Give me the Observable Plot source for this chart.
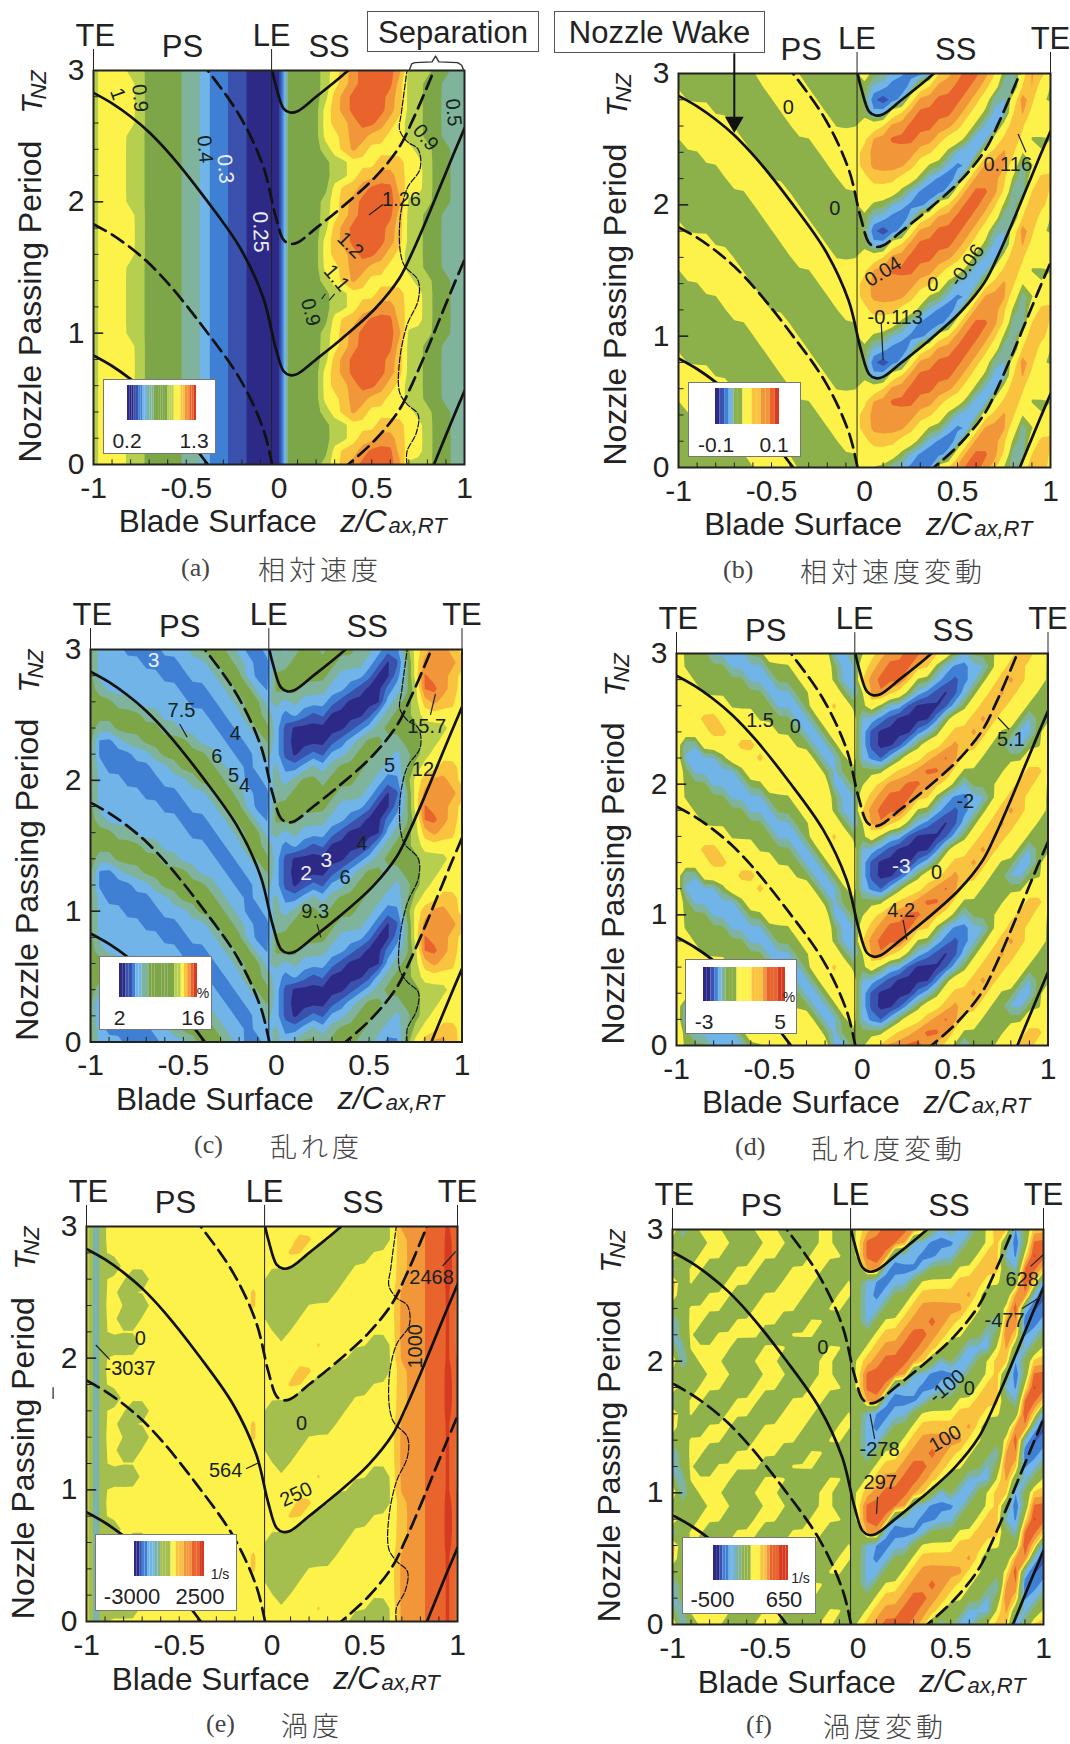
<!DOCTYPE html>
<html><head><meta charset="utf-8">
<script src="https://cdn.jsdelivr.net/npm/d3@7"></script>
<script src="https://cdn.jsdelivr.net/npm/@observablehq/plot@0.6"></script>
<style>
html,body{margin:0;background:#fff}
#page{position:relative;width:1070px;height:1744px;overflow:hidden;background:#fff;font-family:"Liberation Sans",sans-serif;color:#222}
#page>svg,#page>figure{position:absolute;margin:0}
.t{position:absolute;white-space:nowrap;transform:translateY(-50%);line-height:1}
.box{position:absolute;background:#fff;border:1px solid #777;box-sizing:border-box}
.box svg{position:absolute;max-width:none}
</style></head><body><div id="page"></div>
<script>
// Contour levels, one period of the wake (T = 0.0 ... 0.9), z = -1 ... 1 in steps of 0.05.
const gridA=[
"677766555544322110000"+"55556789aaaa96665544",
"677766555544322110000"+"555557889aaa87765544",
"677766555544322110000"+"55555667889987765544",
"677766555544322110000"+"55555667778887765544",
"677766555544322110000"+"55556789877777665544",
"677766555544322110000"+"55557789988776655444",
"677776555544322110000"+"55557889aa9876655444",
"677776555544322110000"+"5555789aaaa986655444",
"677776555544322110000"+"5555689aaaa986655444",
"677776555544322110000"+"55556789aaaa86655444"];
const gridB=[
"55555555577775555555"+"7"+"5533212889aa98537987",
"55555555777755555555"+"7"+"77753211289aa9833897",
"55555577775555555577"+"7"+"88877532128999853788",
"55555777755555555777"+"8"+"99998755321899973577",
"55577777555555557777"+"8"+"99999887532288985757",
"57777775555555577777"+"7"+"99aaa998775227897555",
"77777755555557777555"+"7"+"7899aaa9987532798577",
"77775555555577775555"+"5"+"22889aaaa98753289777",
"75555555555777755555"+"5"+"1012899aaa987337a855",
"55555555557777555555"+"5"+"332128899aa987338975"];
const gridC=[
"53332222333455543223"+"4"+"34554555443225"+"789987",
"53222223345555433233"+"4"+"22343455544334"+"677887",
"52222334555554332234"+"3"+"10121334554434"+"567777",
"52234455555433322335"+"3"+"10000123455445"+"566777",
"54455555443333223355"+"3"+"10000001234555"+"566677",
"55555544333332233554"+"3"+"23212000013455"+"677777",
"55544333333222334553"+"4"+"34333210000345"+"689886",
"54333333332223345532"+"5"+"55444332100234"+"6aa987",
"53333333222333455322"+"5"+"55555433320024"+"7a9987",
"53333322223334554322"+"4"+"45555544432014"+"799998"];
const gridD=[
"75553333557777777335"+"5"+"7899aa98753555778875",
"75333335777777775355"+"5"+"557889aa975555577887",
"73333577787777753357"+"3"+"21357789a97755555777",
"73377778877775533577"+"3"+"10013577898875533557",
"77778877777555335777"+"3"+"10000235788987553357",
"77788777755553357777"+"3"+"32100002577898775355",
"77777755555333577875"+"5"+"75331000135788877555",
"77755555553335577753"+"5"+"9a875321013578987755",
"77555555333555777533"+"8"+"9aaa8553212357898775",
"75555533335557777533"+"7"+"89aaa885322335788775"];
const gridE=[
"82777777777777777777"+"7"+"777777775555"+"7999aab9",
"82755577777777777777"+"7"+"777787777755"+"7999aab9",
"82777777777777777777"+"7"+"577777777777"+"7999aab9",
"82775577777777777777"+"5"+"557777777777"+"7999aab9",
"82777557777777777787"+"5"+"555777777777"+"7999aab9",
"82775777777777777787"+"5"+"555555777777"+"7999aab9",
"82777557777777777777"+"5"+"555555577777"+"7899aaba",
"82757777777777777777"+"7"+"775555557777"+"7899aaba",
"82777777777777777777"+"7"+"788755555577"+"7899aaba",
"82777777777777777777"+"7"+"778877555555"+"7899aaba"];
const gridF=[
"93577755577755557755"+"7"+"89aaa985353357882588",
"53777775557775555775"+"5"+"7899aa98755333795357",
"35755777775557775555"+"5"+"57889aa98775535a8235",
"35775557777755577555"+"5"+"3577899a98775539a123",
"55777755577777555775"+"5"+"3355789999977557b312",
"85557775557777755577"+"5"+"32355788888975559a31",
"95755577755577775557"+"5"+"32233577778887755b82",
"35775557775557777555"+"5"+"9a222235557788853aa8",
"95577755577755577775"+"7"+"aaa233223355788327ba",
"55557775557775557755"+"7"+"aaaa93322235578515aa"];

const baseColors=["#2c2a86","#3a52ad","#3f80d5","#70b4e8","#7fb39b","#7da648","#b7cf4f","#fdf24a","#f9c23f","#f2963a","#e8642c","#d63a20"];
const with5and6=(g,h)=>baseColors.map((c,i)=>i===5?g:i===6?(h||g):c);

// Nozzle wake trajectory
const wakeZ=[-1,-.9,-.8,-.7,-.58,-.4,-.21,-.085,-.02,.025,.06,.1,.2,.34,.52,.65,.72,.8,.87,.94,1];
const wakeT=[2.83,2.75,2.65,2.53,2.35,2.03,1.65,1.27,.9,.71,.68,.69,.8,.96,1.19,1.42,1.62,1.88,2.12,2.36,2.56];
const solidOffsets=[0,2,-2];
const dashedOffsets=[1,-1];
// Separation line
const sepZ=[.69,.69,.74,.75,.69,.65,.65,.69,.75,.75,.67,.65,.69,.76,.75,.69,.65,.66,.69];
const sepT=[0,.1,.24,.38,.46,.55,.79,1.06,1.25,1.4,1.53,1.82,2.1,2.25,2.4,2.46,2.55,2.68,3];
const bracketZ=[.702,.715,.733,.825,.844,.862,.963,.985,.996];
const bracketT=[3,3.05,3.06,3.066,3.11,3.066,3.06,3.04,3];

const xTicks=[-1,-.5,0,.5,1], yTicks=[0,1,2,3];
const xMinor=[-.9,-.8,-.7,-.6,-.5,-.4,-.3,-.2,-.1,.1,.2,.3,.4,.5,.6,.7,.8,.9];
const yMinor=[.2,.4,.6,.8,1.2,1.4,1.6,1.8,2.2,2.4,2.6,2.8];

const topLabels=[["TE",-.99,3.26],["PS",-.52,3.175],["LE",-.04,3.26],["SS",.49,3.175],["TE",1,3.26]];
const topLabelsA=[["TE",-.99,3.26],["PS",-.52,3.175],["LE",-.04,3.26],["SS",.27,3.175]];
const topLabelsB=[["PS",-.34,3.175],["LE",-.04,3.26],["SS",.49,3.175],["TE",1,3.26]];

const notesA=[["0.9",-.75,2.79,85],["1",-.87,2.82,70],["0.4",-.4,2.4,85],["1.26",.66,2.02,0],["1.2",.385,1.67,45],["1.1",.31,1.42,50],["0.9",.17,1.16,75],["0.9",.79,2.49,50],["0.5",.94,2.68,85]];
const whiteA=[["0.3",-.29,2.25,85],["0.25",-.1,1.77,88]];
const leadA=[[.56,1.98,.485,1.9],[.3,1.3,.27,1.25],[.25,1.3,.23,1.26]];
const notesB=[["0",-.41,2.74,0],["0",-.16,1.97,0],["0.04",.1,1.49,-32],["0",.367,1.39,0],["-0.06",.55,1.54,-55],["-0.113",.165,1.14,0],["0.116",.77,2.31,0]];
const leadB=[[.09,1.1,.1,.82],[.826,2.54,.868,2.4]];
const notesC=[["7.5",-.51,2.53,0],["4",-.22,2.36,0],["6",-.32,2.18,0],["5",-.23,2.04,0],["4",-.17,1.96,0],["5",.61,2.11,0],["12",.79,2.08,0],["15.7",.81,2.41,0],["4",.46,1.52,0],["6",.37,1.26,0],["9.3",.21,1,0]];
const whiteC=[["3",-.66,2.92,0],["3",.27,1.39,0],["2",.16,1.29,0]];
const leadC=[[-.52,2.43,-.48,2.33],[.857,2.66,.83,2.5],[.22,.9,.24,.8]];
const notesD=[["1.5",-.55,2.49,0],["0",-.36,2.44,0],["5.1",.8,2.34,0],["-2",.555,1.87,0],["0",.4,1.32,0],["4.2",.21,1.03,0]];
const whiteD=[["-3",.21,1.37,0]];
const leadD=[[.73,2.51,.79,2.42],[.22,.96,.24,.81]];
const notesE=[["0",-.71,2.15,0],["-3037",-.765,1.92,0],["564",-.25,1.145,0],["250",.13,.965,-25],["0",.16,1.5,0],["1000",.775,2.09,-90],["2468",.86,2.61,0]];
const leadE=[[-.95,2.1,-.875,1.99],[-.14,1.16,-.066,1.21],[.92,2.7,.99,2.81],[-1.18,1.69,-1.18,1.78]];
const notesF=[["0",-.19,2.1,0],["-100",.48,1.81,-40],["0",.6,1.79,0],["100",.47,1.41,-30],["-278",.116,1.33,0],["297",.12,1.08,0],["628",.885,2.62,0],["-477",.79,2.31,0]];
const leadF=[[.065,1.6,.09,1.41],[.105,.97,.1,.84],[.93,2.72,1,2.81],[.885,2.4,.985,2.49]];

const stripesA="0001122334445555556667778899aab";
const stripesB="012355778899ab";
const stripesC="0011233445555555566789ab";
const stripesD="00123455577778889aaabb";
const stripesE="0012233344555677888999aaabb";
const stripesF="001223344556777889aaabbb";

const page=document.getElementById("page");
const M={l:85,t:68,r:20,b:100};
const thresholds=d3.range(-.5,12,1);

function field(rows){const v=[];for(let t=0;t<=30;t++){for(const c of rows[t%10])v.push(parseInt(c,36));}return v;}
function offsetLine(zs,ts,offsets){return offsets.flatMap(o=>zs.map((z,i)=>({z,T:ts[i]+o,o})));}
function txt(s,x,y,size,extra){const e=document.createElement("div");e.className="t";e.textContent=s;
  e.style.left=x+"px";e.style.top=y+"px";e.style.fontSize=size+"px";Object.assign(e.style,extra||{});return e;}

function panel(p){
  const w=p.right-p.left,h=p.bottom-p.top;
  const ruleZ=p.labels.filter(d=>d[0]==="TE"||d[0]==="LE").map(d=>d[1]===-.99?-1:d[1]);
  const marks=[
    Plot.contour(field(p.grid),{x1:-1.025,x2:1.025,y1:-.05,y2:3.05,width:41,height:31,value:d=>d,fill:"value",thresholds,blur:p.blur,clip:true}),
    Plot.ruleX(xMinor,{y1:0,y2:.035,stroke:"#222",strokeWidth:1}),
    Plot.ruleY(yMinor,{x1:-1,x2:-.97,stroke:"#222",strokeWidth:1}),
    Plot.ruleY([1,2],{x1:-1,x2:-.945,stroke:"#222",strokeWidth:1.6}),
    Plot.ruleX(ruleZ,{y1:0,y2:3.16,stroke:"#222",strokeWidth:1})
  ];
  if(p.sep) marks.push(Plot.line(sepZ.map((z,i)=>({z:z+p.sep,T:sepT[i]})),{x:"z",y:"T",stroke:"#111",strokeWidth:1.2,strokeDasharray:"6,2",curve:"catmull-rom",clip:true}));
  marks.push(
    Plot.line(offsetLine(wakeZ,wakeT,solidOffsets),{x:"z",y:"T",z:"o",stroke:"#111",strokeWidth:2.7,curve:"catmull-rom",clip:true}),
    Plot.line(offsetLine(wakeZ,wakeT,dashedOffsets),{x:"z",y:"T",z:"o",stroke:"#111",strokeWidth:2.7,strokeDasharray:"14,7",curve:"catmull-rom",clip:true}),
    Plot.frame({stroke:"#222",strokeWidth:2}),
    Plot.axisX(xTicks,{anchor:"bottom",tickSize:0,tickPadding:12,tickFormat:d=>String(d),fontSize:30,label:null,fill:"#222"}),
    Plot.axisY(yTicks,{anchor:"left",tickSize:0,tickPadding:9,tickFormat:d=>String(d),fontSize:30,label:null,fill:"#222"}),
    Plot.text(p.labels,{x:d=>d[1],y:d=>d[2],text:d=>d[0],fontSize:31,fill:"#222"}),
    Plot.text(["Nozzle Passing Period"],{x:-1.34,y:1.24,rotate:-90,fontSize:32,fill:"#222"}),
    Plot.text(["T"],{x:-1.325,y:2.74,rotate:-90,fontSize:29,fontStyle:"italic",fill:"#222"}),
    Plot.text(["NZ"],{x:-1.295,y:2.89,rotate:-90,fontSize:22,fontStyle:"italic",fill:"#222"}),
    Plot.text(["Blade Surface"],{x:-.33,y:-.44,fontSize:31.5,fill:"#222"}),
    Plot.text(["z/C"],{x:.33,y:-.44,textAnchor:"start",fontSize:31,fontStyle:"italic",fill:"#222"}),
    Plot.text(["ax,RT"],{x:.59,y:-.465,textAnchor:"start",fontSize:22,fontStyle:"italic",fill:"#222"}),
    Plot.text(p.notes,{x:d=>d[1],y:d=>d[2],text:d=>d[0],rotate:d=>d[3],fontSize:20,fill:"#16221a"}),
    Plot.link(p.lead,{x1:d=>d[0],y1:d=>d[1],x2:d=>d[2],y2:d=>d[3],stroke:"#222",strokeWidth:1.2})
  );
  if(p.white) marks.push(Plot.text(p.white,{x:d=>d[1],y:d=>d[2],text:d=>d[0],rotate:d=>d[3],fontSize:21,fill:"#eef"}));
  if(p.extra) marks.push(...p.extra);
  const svg=Plot.plot({
    width:w+M.l+M.r,height:h+M.t+M.b,marginLeft:M.l,marginRight:M.r,marginTop:M.t,marginBottom:M.b,
    x:{domain:[-1,1]},y:{domain:[0,3]},
    color:{type:"ordinal",domain:thresholds,range:p.colors},
    style:{background:"transparent",overflow:"visible",fontFamily:"'Liberation Sans',sans-serif",maxWidth:"none"},
    marks
  });
  svg.style.left=(p.left-M.l)+"px";svg.style.top=(p.top-M.t)+"px";
  page.appendChild(svg);
}

function legend(l){
  const b=document.createElement("div");b.className="box";
  b.style.cssText+=`left:${l.x0}px;top:${l.y0}px;width:${l.x1-l.x0}px;height:${l.y1-l.y0}px`;
  const levels=[...l.stripes].map(c=>parseInt(c,36));
  const svg=Plot.plot({width:l.bx1-l.bx0,height:l.by1-l.by0,margin:0,
    x:{axis:null,padding:0,round:false},y:{axis:null},
    color:{type:"ordinal",domain:d3.range(12),range:l.colors},
    marks:[Plot.cell(levels,{x:(d,i)=>i,fill:d=>d})]});
  svg.style.left=(l.bx0-l.x0)+"px";svg.style.top=(l.by0-l.y0)+"px";
  b.appendChild(svg);page.appendChild(b);
  for(const [s,x,y,size] of l.labels){const e=txt(s,x,y,size,{transform:"translate(-50%,-50%)"});page.appendChild(e);}
}

const yellow="#fdf24a";
const colorsB=with5and6("#8cb04a",yellow),colorsD=with5and6("#86ad4a",yellow),colorsE=with5and6("#a5bf4f"),colorsF=with5and6("#8fb34a");

panel({grid:gridA,colors:baseColors,blur:.03,left:93,right:464,top:70,bottom:464,labels:topLabelsA,sep:.0001,notes:notesA,white:whiteA,lead:leadA,
  extra:[Plot.line(bracketZ.map((z,i)=>({z,T:bracketT[i]})),{x:"z",y:"T",stroke:"#333",strokeWidth:1.4})]});
panel({grid:gridB,colors:colorsB,blur:.05,left:678,right:1050,top:73,bottom:467,labels:topLabelsB,notes:notesB,lead:leadB,
  extra:[Plot.ruleX([-.7],{y1:2.62,y2:3.15,stroke:"#111",strokeWidth:2}),Plot.dot([-.7],{x:d=>d,y:[2.63],symbol:"triangle",rotate:180,r:7,fill:"#111"})]});
panel({grid:gridC,colors:baseColors,blur:.03,left:89.5,right:461,top:648.5,bottom:1041,labels:topLabels,sep:.015,notes:notesC,white:whiteC,lead:leadC});
panel({grid:gridD,colors:colorsD,blur:.03,left:675.5,right:1047,top:653,bottom:1045,labels:topLabels,notes:notesD,white:whiteD,lead:leadD});
panel({grid:gridE,colors:colorsE,blur:.05,left:86,right:457,top:1226,bottom:1621,labels:topLabels,sep:-.02,notes:notesE,lead:leadE});
panel({grid:gridF,colors:colorsF,blur:.02,left:672,right:1043,top:1229,bottom:1624,labels:topLabels,notes:notesF,lead:leadF});

legend({x0:103,x1:216,y0:379,y1:454,bx0:126,bx1:195,by0:384,by1:419,stripes:stripesA,colors:baseColors,labels:[["0.2",127,440,21],["1.3",194,440,21]]});
legend({x0:688,x1:801,y0:382,y1:457,bx0:714,bx1:778,by0:387,by1:423,stripes:stripesB,colors:colorsB,labels:[["-0.1",716,444,21],["0.1",774,444,21]]});
legend({x0:99,x1:212,y0:955.5,y1:1030,bx0:118,bx1:196,by0:962,by1:996,stripes:stripesC,colors:baseColors,labels:[["2",119.5,1017,21],["16",193,1017,21],["%",203,993,14]]});
legend({x0:685,x1:797,y0:959,y1:1034,bx0:701.5,bx1:783.5,by0:965.5,by1:999.5,stripes:stripesD,colors:colorsD,labels:[["-3",704,1021,21],["5",780,1021,21],["%",789,997,14]]});
legend({x0:95,x1:237,y0:1534,y1:1611,bx0:132.5,bx1:203,by0:1540,by1:1575,stripes:stripesE,colors:colorsE,labels:[["-3000",132,1597,22],["2500",200,1597,22],["1/s",220,1574,14]]});
legend({x0:682,x1:815.5,y0:1537,y1:1614,bx0:711.5,bx1:787,by0:1544,by1:1579,stripes:stripesF,colors:colorsF,labels:[["-500",712.5,1600,22],["650",784,1600,22],["1/s",800.5,1578,14]]});

// Callout boxes
for(const [s,x0,x1,y0,y1] of [["Separation",367,539,11,52],["Nozzle Wake",554,765,11,53]]){
  const b=document.createElement("div");b.className="box";b.style.cssText+=`left:${x0}px;top:${y0}px;width:${x1-x0}px;height:${y1-y0}px;background:#fff;border-color:#555`;
  page.appendChild(b);
  page.appendChild(txt(s,(x0+x1)/2,(y0+y1)/2,31,{transform:"translate(-50%,-50%)"}));
}

// Captions
const capFont={color:"#444"};
for(const [a,b,xa,xb,y] of [["(a)","相対速度",181,258,568],["(b)","相対速度変動",723,800,570],["(c)","乱れ度",194,270,1145],["(d)","乱れ度変動",735,811,1147],["(e)","渦度",206,281,1724],["(f)","渦度変動",746,823,1725]]){
  page.appendChild(txt(a,xa,y,26,{...capFont,fontFamily:"'Liberation Serif',serif"}));
  page.appendChild(txt(b,xb,y,27,{...capFont,fontFamily:"'Noto Sans CJK JP',sans-serif",fontWeight:"300",letterSpacing:"4px"}));
}
</script></body></html>
